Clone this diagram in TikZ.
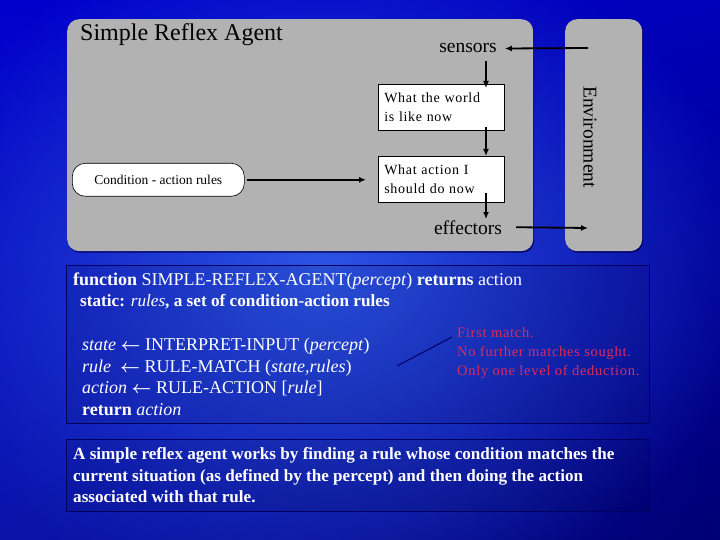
\documentclass[tikz,border=0pt]{standalone}
\usepackage{fontspec}
\setmainfont{Liberation Serif}
\newfontfamily\spacedserif[LetterSpace=5]{Liberation Serif}
\usetikzlibrary{positioning, arrows.meta, calc, shadows, shadings, fadings}
\definecolor{PanelGray}{RGB}{178,178,178}
\definecolor{DeepNavy}{RGB}{0,0,95}
\definecolor{NoteRed}{RGB}{215,45,95}
\definecolor{GlowBlue}{RGB}{45,85,230}
\definecolor{BgUL}{RGB}{0,0,205}
\definecolor{BgUR}{RGB}{0,0,185}
\definecolor{BgLL}{RGB}{10,20,170}
\definecolor{BgLR}{RGB}{0,0,115}
\tikzfading[name=glowfade, inner color=transparent!0, outer color=transparent!100]
\newcommand{\getsarrow}{{\boldmath$\leftarrow$}}
\tikzset{
  panel/.style={fill=PanelGray, rounded corners=12pt, anchor=north west, inner sep=0pt,
    drop shadow={shadow xshift=1pt, shadow yshift=-1.5pt, fill=DeepNavy, opacity=0.9}},
  statebox/.style={draw, fill=white, line width=0.6pt, anchor=north west, inner sep=0pt,
    minimum width=126pt, minimum height=46pt, text width=114pt, align=left,
    font=\spacedserif\fontsize{14}{19}\selectfont},
  lbl/.style={inner sep=1pt, font=\fontsize{19.5}{23}\selectfont},
  flow/.style={-{Latex[length=7pt, width=6pt]}, line width=1.8pt},
  codebox/.style={draw=DeepNavy, line width=0.8pt, fill=black, fill opacity=0.07},
  codeline/.style={anchor=base west, inner sep=0pt, text=white, font=\fontsize{18}{21}\selectfont}
}

\begin{document}
\begin{tikzpicture}[x=1pt, y=-1pt]
  \useasboundingbox (0,0) rectangle (720,540);
  \shade[upper left=BgUL, upper right=BgUR, lower left=BgLL, lower right=BgLR] (0,0) rectangle (720,540);
  \fill[GlowBlue, path fading=glowfade] (320,270) ellipse (440pt and 340pt);

  \node[panel, minimum width=466pt, minimum height=232pt] (agent) at (67,19) {};
  \node[panel, minimum width=77pt, minimum height=232pt] (env) at (565,19) {};
  \node[anchor=base west, inner sep=0pt, font=\fontsize{24}{28}\selectfont] (title) at (80,41) {Simple Reflex Agent};
  \node[lbl, anchor=base] (sensors) at (468,53) {sensors};
  \node[lbl, anchor=base] (effectors) at (468,234) {effectors};
  \node[lbl, rotate=-90] (envlabel) at (590,137) {Environment};
  \node[statebox] (world) at (378,84) {What the world\\is like now};
  \node[statebox] (decide) at (378,156) {What action I\\should do now};
  \node[draw, fill=white, line width=0.6pt, rounded corners=13pt, anchor=north west,
    minimum width=172pt, minimum height=33pt, inner sep=0pt,
    font=\fontsize{13.5}{16}\selectfont] (cond) at (72,163) {Condition - action rules};

  \coordinate (envin) at (588,48);
  \coordinate (envout) at (588,228);
  \coordinate (drop) at (486,61);
  \draw[flow] (envin) -- ([xshift=7pt]sensors.east);
  \draw[flow, shorten >=-4pt] (drop) -- (drop |- world.north);
  \draw[flow] ([yshift=4pt]world.south -| drop) -- (drop |- decide.north);
  \draw[flow] ([yshift=10pt]decide.south -| drop) -- (drop |- effectors.north);
  \draw[flow] ([xshift=13pt]effectors.east) -- (envout);
  \draw[flow, shorten <=2pt, shorten >=12pt] (cond.east) -- (cond.east -| decide.west);

  \draw[codebox] (66,265) rectangle (649,423);
  \draw[codebox] (66,439) rectangle (649,511);
  \node[codeline] (c1) at (73,285) {\textbf{function} SIMPLE-REFLEX-AGENT(\textit{percept}) \textbf{returns} action};
  \node[codeline, font=\fontsize{17.2}{21}\selectfont] (c2) at (80,306) {\textbf{static:} \textit{rules}\textbf{, a set of condition-action rules}};
  \node[codeline] (c3) at (82,350) {\textit{state} \getsarrow{} INTERPRET-INPUT (\textit{percept})};
  \node[codeline] (c4) at (82,372) {\textit{rule}\ \ \getsarrow{} RULE-MATCH (\textit{state,rules})};
  \node[codeline] (c5) at (82,393) {\textit{action} \getsarrow{} RULE-ACTION [\textit{rule}]};
  \node[codeline] (c6) at (82,415) {\textbf{return} \textit{action}};
  \node[anchor=north west, inner sep=0pt, align=left, text=NoteRed,
    font=\spacedserif\fontsize{14.5}{19}\selectfont] (note) at (457,327)
    {First match.\\No further matches sought.\\Only one level of deduction.};
  \coordinate (notetail) at (397,366);
  \draw[DeepNavy, line width=1pt] (notetail) -- ([xshift=-5pt, yshift=-10pt]note.north west);
  \node[anchor=north west, inner sep=0pt, align=left, text=white,
    font=\bfseries\fontsize{17.1}{21.5}\selectfont] (summary) at (73,447.5)
    {A simple reflex agent works by finding a rule whose condition matches the\\
     current situation (as defined by the percept) and then doing the action\\
     associated with that rule.};
\end{tikzpicture}
\end{document}
